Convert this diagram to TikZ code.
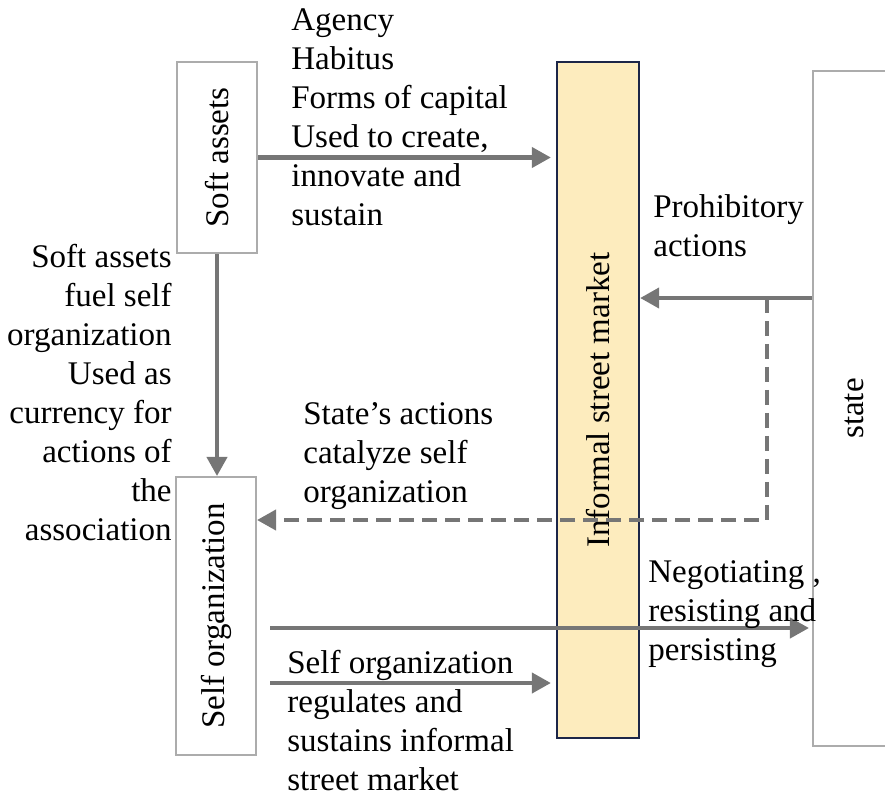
\documentclass[tikz,border=0pt]{standalone}
\usepackage{fontspec}
\setmainfont{Liberation Serif}
\usetikzlibrary{arrows.meta}
\definecolor{boxgray}{RGB}{172,172,172}
\definecolor{arrowgray}{RGB}{118,118,118}
\definecolor{marketfill}{RGB}{253,236,190}
\definecolor{marketline}{RGB}{28,38,72}
\begin{document}
\begin{tikzpicture}[x = 0.02cm, y = -0.02cm, font = \fontsize{18.8pt}{22.2pt}\selectfont]
	\tikzstyle{boxStyle} = [draw = boxgray, line width = 1.2pt, inner sep = 0pt]
	\tikzstyle{marketStyle} = [draw = marketline, fill = marketfill, line width = 1.3pt, inner sep = 0pt]
	\tikzstyle{arrowStyle} = [draw = arrowgray, line width = 2.3pt, -{Triangle[length = 0.38cm, width = 0.4cm]}]
	\tikzstyle{dashStyle} = [arrowStyle, dash pattern = on 0.3cm off 0.16cm]
	\tikzstyle{labelStyle} = [inner sep = 0pt, anchor = north west, align = left]
	\useasboundingbox (0,0) rectangle (885,798);
	\node[boxStyle, minimum width = 1.6cm, minimum height = 3.82cm] (soft) at (217,157.5) {\rotatebox{90}{Soft assets}};
	\node[boxStyle, minimum width = 1.6cm, minimum height = 5.56cm] (self) at (216,616) {\rotatebox{90}{Self organization}};
	\node[marketStyle, minimum width = 1.64cm, minimum height = 13.52cm] (ism) at (598,400) {\rotatebox{90}{Informal street market}};
	\node[boxStyle, minimum width = 1.64cm, minimum height = 13.5cm] (state) at (854,408.5) {\rotatebox{90}{state}};
	\coordinate (split) at (767,298);
	\coordinate (turn) at (767,520);
	\coordinate (neg) at (270,628);
	\coordinate (reg) at (270,683);
	\draw[arrowStyle, shorten > = 0.1cm] (soft.east) -- (soft.east -| ism.west);
	\draw[arrowStyle] (soft.south) -- (soft.south |- self.north);
	\draw[arrowStyle] (state.west |- split) -- (ism.east |- split);
	\draw[dashStyle] (split) -- (turn) -- (self.east |- turn);
	\draw[arrowStyle, shorten > = 0.06cm] (neg) -- (state.west |- neg);
	\draw[arrowStyle, shorten > = 0.1cm] (reg) -- (ism.west |- reg);
	\node[labelStyle] (t0) at (291,8) {Agency\\Habitus\\Forms of capital\\Used to create,\\innovate and\\sustain};
	\node[labelStyle, anchor = north east, align = right] (t1) at (172,244) {Soft assets\\fuel self\\organization\\Used as\\currency for\\actions of\\the\\association};
	\node[labelStyle] (t2) at (653,194) {Prohibitory\\actions};
	\node[labelStyle] (t3) at (303,402) {State’s actions\\catalyze self\\organization};
	\node[labelStyle] (t4) at (648,560) {Negotiating ,\\resisting and\\persisting};
	\node[labelStyle] (t5) at (287,650) {Self organization\\regulates and\\sustains informal\\street market};
\end{tikzpicture}
\end{document}
